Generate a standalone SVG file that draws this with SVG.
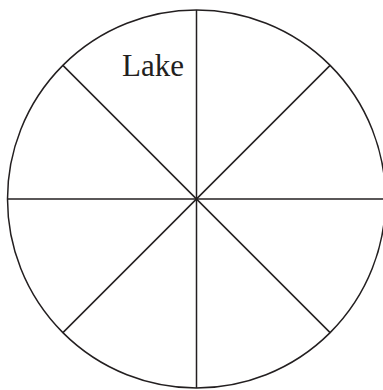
<svg xmlns="http://www.w3.org/2000/svg" width="383" height="390" viewBox="0 0 383 390">
<style>
.l{stroke:#231f20;stroke-width:1.5;fill:none}
.t{font-family:"Liberation Serif",serif;font-size:31px;fill:#231f20}
</style>
<rect width="383" height="390" fill="#fff"/>
<g id="connectors">
<line class="l" x1="196.5" y1="10" x2="196.5" y2="388"/>
<line class="l" x1="7.5" y1="199" x2="385.5" y2="199"/>
<line class="l" x1="62.9" y1="65.4" x2="330.1" y2="332.6"/>
<line class="l" x1="330.1" y1="65.4" x2="62.9" y2="332.6"/>
</g>
<g id="circle">
<circle class="l" cx="196.5" cy="199" r="189"/>
</g>
<g id="label">
<text class="t" x="122" y="76">Lake</text>
</g>
</svg>
